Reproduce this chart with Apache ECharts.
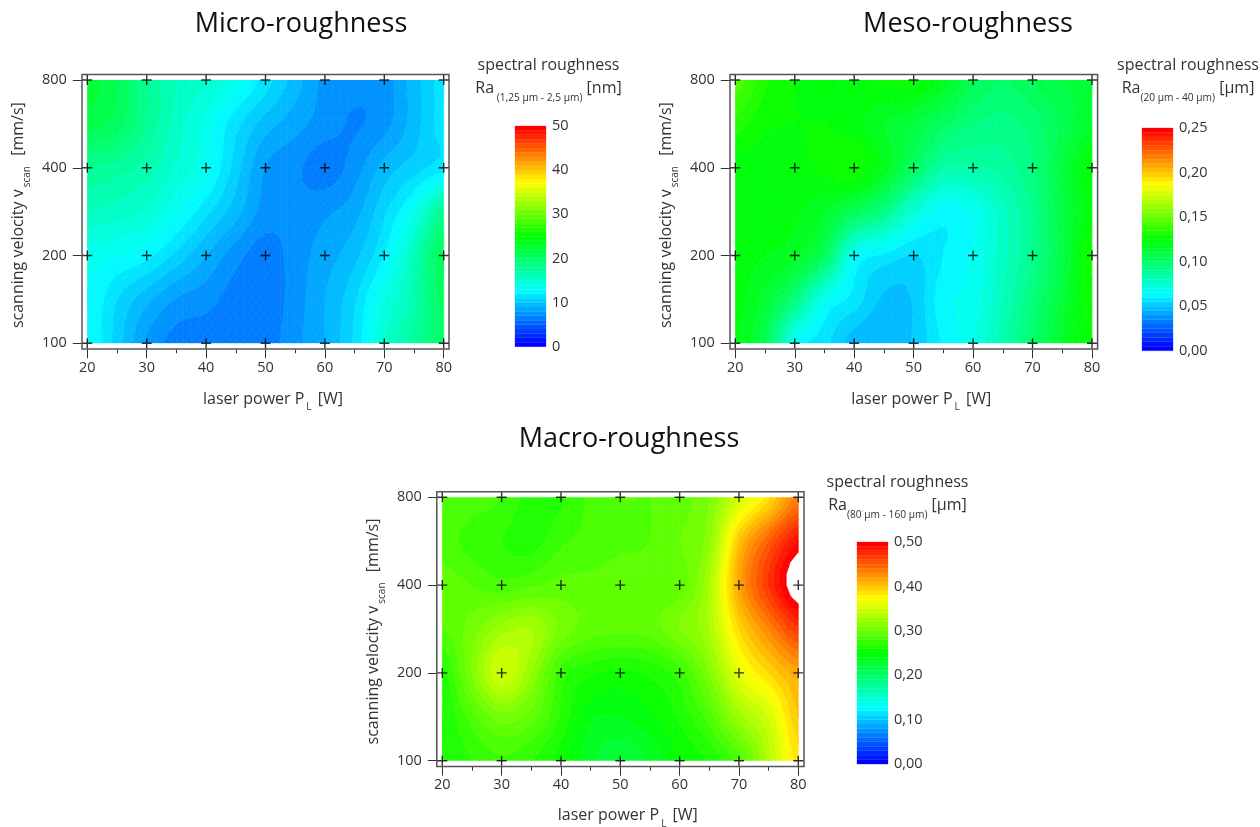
<!DOCTYPE html>
<html><head><meta charset="utf-8">
<style>html,body{margin:0;padding:0;background:#fff}#c{width:1260px;height:827px}</style>
<script src="https://cdn.jsdelivr.net/npm/echarts@6/dist/echarts.min.js"></script>
</head><body><div id="c"></div>
<script>
// read positions of the contour maps
const powerLevels = [20,25,30,35,40,45,50,55,60,65,70,75,80];
const velocityRows = ['100','141','200','283','400','566','800'];
// measured sample points (crosses)
const samplePowers = [20,30,40,50,60,70,80];
const sampleVelocities = ['100','200','400','800'];

// each row runs over powerLevels; rows ordered as velocityRows
const microV100 = [13,10.5,7.8,6.6,6.4,6.3,6.5,7.7,9,11.2,15,17.5,20];
const microV141 = [13,11,9.3,7.9,7.4,6.5,6.3,7.5,9,10.8,14,16.5,20.5];
const microV200 = [13.5,13,12.3,10.7,9,7.4,6.4,7.5,8.5,9.7,12,16,21];
const microV283 = [16,15.5,14.8,13.2,11.3,9.4,7.6,7.4,7.8,8.6,10.8,13.5,18];
const microV400 = [18,17.5,16.5,14.8,13.3,10.5,7.9,7.2,6.4,7.5,9.4,10.5,11.5];
const microV566 = [21.5,20.5,18,15.5,13.6,11.3,9.5,8.4,7.5,6.9,7.6,9.5,11.5];
const microV800 = [22.5,21,18,16,15,13.5,11.5,9.5,7.7,7.3,7.5,9.5,11.5];

const mesoV100 = [.121,.105,.065,.057,.047,.046,.0505,.061,.069,.083,.099,.115,.125];
const mesoV141 = [.122,.113,.095,.067,.058,.049,.0505,.0635,.067,.08,.095,.112,.128];
const mesoV200 = [.122,.12,.116,.103,.066,.059,.0548,.06,.066,.078,.091,.108,.131];
const mesoV283 = [.124,.123,.121,.115,.105,.093,.073,.0625,.066,.078,.091,.109,.122];
const mesoV400 = [.122,.122,.123,.126,.129,.118,.102,.085,.085,.087,.095,.11,.125];
const mesoV566 = [.133,.126,.125,.125,.122,.115,.11,.102,.095,.093,.097,.106,.115];
const mesoV800 = [.143,.131,.125,.122,.124,.126,.126,.118,.106,.1,.105,.11,.112];

const macroV100 = [.26,.27,.278,.27,.255,.232,.222,.232,.25,.262,.285,.335,.385];
const macroV141 = [.26,.285,.305,.295,.268,.242,.24,.248,.262,.285,.325,.35,.40];
const macroV200 = [.265,.31,.35,.32,.275,.262,.257,.262,.275,.31,.36,.39,.415];
const macroV283 = [.29,.305,.325,.33,.307,.295,.293,.295,.31,.33,.39,.43,.468];
const macroV400 = [.295,.29,.283,.288,.293,.293,.295,.295,.295,.33,.415,.47,.515];
const macroV566 = [.285,.275,.27,.265,.278,.283,.288,.29,.30,.316,.40,.45,.49];
const macroV800 = [.29,.285,.28,.265,.268,.283,.29,.29,.295,.31,.35,.385,.435];

const microTicks = [0,10,20,30,40,50];
const mesoTicks = [0,.05,.10,.15,.20,.25];
const macroTicks = [0,.10,.20,.30,.40,.50];
const levelCount = 50;

const microGrid = [microV100,microV141,microV200,microV283,microV400,microV566,microV800];
const mesoGrid = [mesoV100,mesoV141,mesoV200,mesoV283,mesoV400,mesoV566,mesoV800];
const macroGrid = [macroV100,macroV141,macroV200,macroV283,macroV400,macroV566,macroV800];

const FONT = '"Open Sans"';
const TXT = '#333';
const SUB = 4; // contour-tracing subdivisions per cell

function levelColor(k){
  const t = k/(levelCount-1)*4, s = t-Math.floor(t), seg = Math.floor(t);
  const c = v=>Math.round(v*255);
  let rgb;
  if(seg===0) rgb=[0,c(s),255];
  else if(seg===1) rgb=[0,255,c(1-s)];
  else if(seg===2) rgb=[c(s),255,0];
  else if(seg===3) rgb=[255,c(1-s),0];
  else rgb=[255,0,0];
  return `rgb(${rgb.join(',')})`;
}
function clip(poly, thr, keepAbove){
  const out=[];
  for(let i=0;i<poly.length;i++){
    const a=poly[i], b=poly[(i+1)%poly.length];
    const ain = keepAbove ? a[2]>=thr : a[2]<=thr;
    const bin = keepAbove ? b[2]>=thr : b[2]<=thr;
    if(ain) out.push(a);
    if(ain!==bin){
      const f=(thr-a[2])/(b[2]-a[2]);
      out.push([a[0]+(b[0]-a[0])*f,a[1]+(b[1]-a[1])*f,thr]);
    }
  }
  return out;
}
function cr(p0,p1,p2,p3,t){
  return .5*(2*p1+(p2-p0)*t+(2*p0-5*p1+4*p2-p3)*t*t+(3*p1-p0-3*p2+p3)*t*t*t);
}
function surface(values,i,j,u,v){
  const nx=values[0].length-1, ny=values.length-1;
  const cl=(a,m)=>Math.max(0,Math.min(m,a));
  const col=[];
  for(let r=-1;r<=2;r++){
    const row=values[cl(j+r,ny)];
    col.push(cr(row[cl(i-1,nx)],row[cl(i,nx)],row[cl(i+1,nx)],row[cl(i+2,nx)],u));
  }
  return cr(col[0],col[1],col[2],col[3],v);
}
function cellRenderer(values, step){
  return function(params, api){
    const x0=api.value(0), j=api.value(1), i=powerLevels.indexOf(x0), x1=powerLevels[i+1];
    const A=api.coord([x0,j]), C=api.coord([x1,j+1]);
    const P=(a,b)=>[A[0]+(C[0]-A[0])*a/SUB, A[1]+(C[1]-A[1])*b/SUB, surface(values,i,j,a/SUB,b/SUB)];
    const nodes=[];
    for(let b=0;b<=SUB;b++){const r=[];for(let a=0;a<=SUB;a++)r.push(P(a,b));nodes.push(r);}
    const children=[];
    const add=tri=>{
      const lo=Math.min(tri[0][2],tri[1][2],tri[2][2]), hi=Math.max(tri[0][2],tri[1][2],tri[2][2]);
      for(let k=Math.max(0,Math.floor(lo/step)); k<=Math.min(levelCount-1,Math.floor(hi/step)); k++){
        let poly=clip(tri,k*step,true);
        if(poly.length) poly=clip(poly,(k+1)*step,false);
        if(poly.length<3) continue;
        const col=levelColor(k);
        children.push({type:'polygon',shape:{points:poly.map(p=>[p[0],p[1]])},style:{fill:col,stroke:col,lineWidth:.6}});
      }
    };
    for(let b=0;b<SUB;b++)for(let a=0;a<SUB;a++){
      const n00=nodes[b][a],n10=nodes[b][a+1],n01=nodes[b+1][a],n11=nodes[b+1][a+1];
      add([n00,n10,n11]);add([n00,n11,n01]);
    }
    return {type:'group',children,silent:true};
  };
}
const cells=[];
for(let j=0;j<velocityRows.length-1;j++) for(let i=0;i<powerLevels.length-1;i++) cells.push([powerLevels[i],j]);
const crosses=[];
samplePowers.forEach(p=>sampleVelocities.forEach(v=>crosses.push([p,v])));
const plusPath='path://M4.3 0h1.4v4.3h4.3v1.4h-4.3v4.3h-1.4v-4.3h-4.3v-1.4h4.3z';

const option={animation:false,backgroundColor:'#fff',textStyle:{fontFamily:FONT},
  title:[],grid:[],xAxis:[],yAxis:[],series:[],graphic:[]};

const subRich={
  a:{fontFamily:FONT,fontSize:16,color:TXT,lineHeight:22,padding:[0,0,7,0],verticalAlign:'bottom'},
  s:{fontFamily:FONT,fontSize:10.2,color:TXT,lineHeight:12,verticalAlign:'bottom'}
};
const axisRich={
  a:{fontFamily:FONT,fontSize:16,color:TXT,lineHeight:22,padding:[0,0,5,0],verticalAlign:'bottom'},
  s:{fontFamily:FONT,fontSize:10,color:TXT,lineHeight:12,verticalAlign:'bottom',padding:[0,2,0,2]}
};
function addPanel(cfg){
  const g=option.grid.length;
  option.title.push({text:cfg.title,left:cfg.titleX,top:cfg.titleY,textAlign:'center',padding:0,
    textStyle:{fontFamily:FONT,fontSize:27,fontWeight:'normal',color:'#111'}});
  option.title.push({text:'spectral roughness',left:cfg.headX,top:cfg.headY,textAlign:'center',padding:0,
    textStyle:{fontFamily:FONT,fontSize:16,fontWeight:'normal',color:TXT}});
  option.title.push({text:'{a|Ra}{s|'+cfg.band+'} {a|'+cfg.unit+'}',left:cfg.headX,top:cfg.headY+24,textAlign:'center',padding:0,
    textStyle:{fontFamily:FONT,fontSize:16,fontWeight:'normal',color:TXT,rich:subRich}});
  // plot
  option.grid.push({left:cfg.box[0],top:cfg.box[1],width:cfg.box[2],height:cfg.box[3],outerBoundsMode:'none'});
  option.xAxis.push({gridIndex:g,type:'value',min:20,max:80,interval:10,offset:6,
    name:'{a|laser power P}{s|L}{a| [W]}',nameLocation:'middle',nameGap:cfg.xGap,
    nameTextStyle:{fontFamily:FONT,rich:axisRich,padding:[0,0,0,15]},
    axisLine:{show:false},splitLine:{show:false},
    axisTick:{show:true,length:9,lineStyle:{color:'#333',width:1}},
    minorTick:{show:true,splitNumber:2,length:4,lineStyle:{color:'#333',width:1}},
    axisLabel:{color:TXT,fontFamily:FONT,fontSize:14.5,margin:cfg.xMargin}});
  option.yAxis.push({gridIndex:g,type:'category',data:velocityRows,boundaryGap:false,offset:5.5,
    name:'{a|scanning velocity v}{s|scan}{a|  [mm/s]}',nameLocation:'middle',nameGap:50,
    nameTextStyle:{fontFamily:FONT,rich:axisRich,padding:[0,cfg.yPad,0,0]},
    axisLine:{show:false},splitLine:{show:false},
    axisTick:{show:true,length:9,interval:1,alignWithLabel:true,lineStyle:{color:'#333',width:1}},
    axisLabel:{color:TXT,fontFamily:FONT,fontSize:14.5,margin:15,interval:1}});
  option.series.push({type:'custom',xAxisIndex:g,yAxisIndex:g,data:cells,clip:true,silent:true,
    renderItem:cellRenderer(cfg.values,cfg.step),z:2});
  option.series.push({type:'scatter',xAxisIndex:g,yAxisIndex:g,data:crosses,symbol:plusPath,symbolSize:10,
    clip:false,silent:true,itemStyle:{color:'#000'},z:5});
  option.graphic.push({type:'rect',shape:{x:cfg.frame[0],y:cfg.frame[1],width:cfg.frame[2],height:cfg.frame[3]},
    style:{fill:'none',stroke:'#555',lineWidth:1.5},z:3,silent:true});
  // colour scale
  const l=option.grid.length;
  option.grid.push({left:cfg.scale[0],top:cfg.scale[1],width:cfg.scale[2],height:cfg.scale[3],outerBoundsMode:'none'});
  option.xAxis.push({gridIndex:l,type:'value',min:0,max:1,show:false});
  const top=cfg.step*levelCount;
  option.yAxis.push({gridIndex:l,type:'value',min:0,max:top,interval:cfg.ticks[1]-cfg.ticks[0],position:'right',
    axisLine:{show:false},axisTick:{show:false},splitLine:{show:false},
    axisLabel:{color:TXT,fontFamily:FONT,fontSize:14.5,margin:6,padding:[3,0,0,0],
      formatter:v=>cfg.digits?v.toFixed(cfg.digits).replace('.',','):String(v)}});
  const bands=[];for(let k=0;k<levelCount;k++)bands.push([k]);
  option.series.push({type:'custom',xAxisIndex:l,yAxisIndex:l,data:bands,silent:true,
    renderItem:(p,api)=>{
      const k=api.value(0),a=api.coord([0,k*cfg.step]),b=api.coord([1,(k+1)*cfg.step]);
      const col=levelColor(k);
      return {type:'rect',shape:{x:a[0],y:b[1],width:b[0]-a[0],height:a[1]-b[1]},style:{fill:col,stroke:col,lineWidth:.3}};
    }});
}
addPanel({title:'Micro-roughness',titleX:301,titleY:11,headX:548.5,headY:57,band:' (1,25 µm - 2,5 µm)',unit:'[nm]',xGap:41,xMargin:11,yPad:7,
  box:[87.3,80,356.4,263.3],frame:[82,74.5,367,274.5],scale:[515,126,31,220.7],values:microGrid,step:1,ticks:microTicks,digits:0});
addPanel({title:'Meso-roughness',titleX:968,titleY:11,headX:1188,headY:57,band:'(20 µm - 40 µm)',unit:'[µm]',xGap:41,xMargin:11,yPad:7,
  box:[735.3,80,356.7,263.3],frame:[730,74.5,367.6,274.5],scale:[1142,128,31,222.7],values:mesoGrid,step:.005,ticks:mesoTicks,digits:2});
addPanel({title:'Macro-roughness',titleX:629,titleY:426,headX:897.5,headY:474,band:'(80 µm - 160 µm)',unit:'[µm]',xGap:40,xMargin:11,yPad:5,
  box:[442.3,497.3,356,263.4],frame:[436.8,491.8,367.2,274.8],scale:[857,542,31,222],values:macroGrid,step:.01,ticks:macroTicks,digits:2});

echarts.init(document.getElementById('c'),null,{renderer:'canvas'}).setOption(option);
</script></body></html>
